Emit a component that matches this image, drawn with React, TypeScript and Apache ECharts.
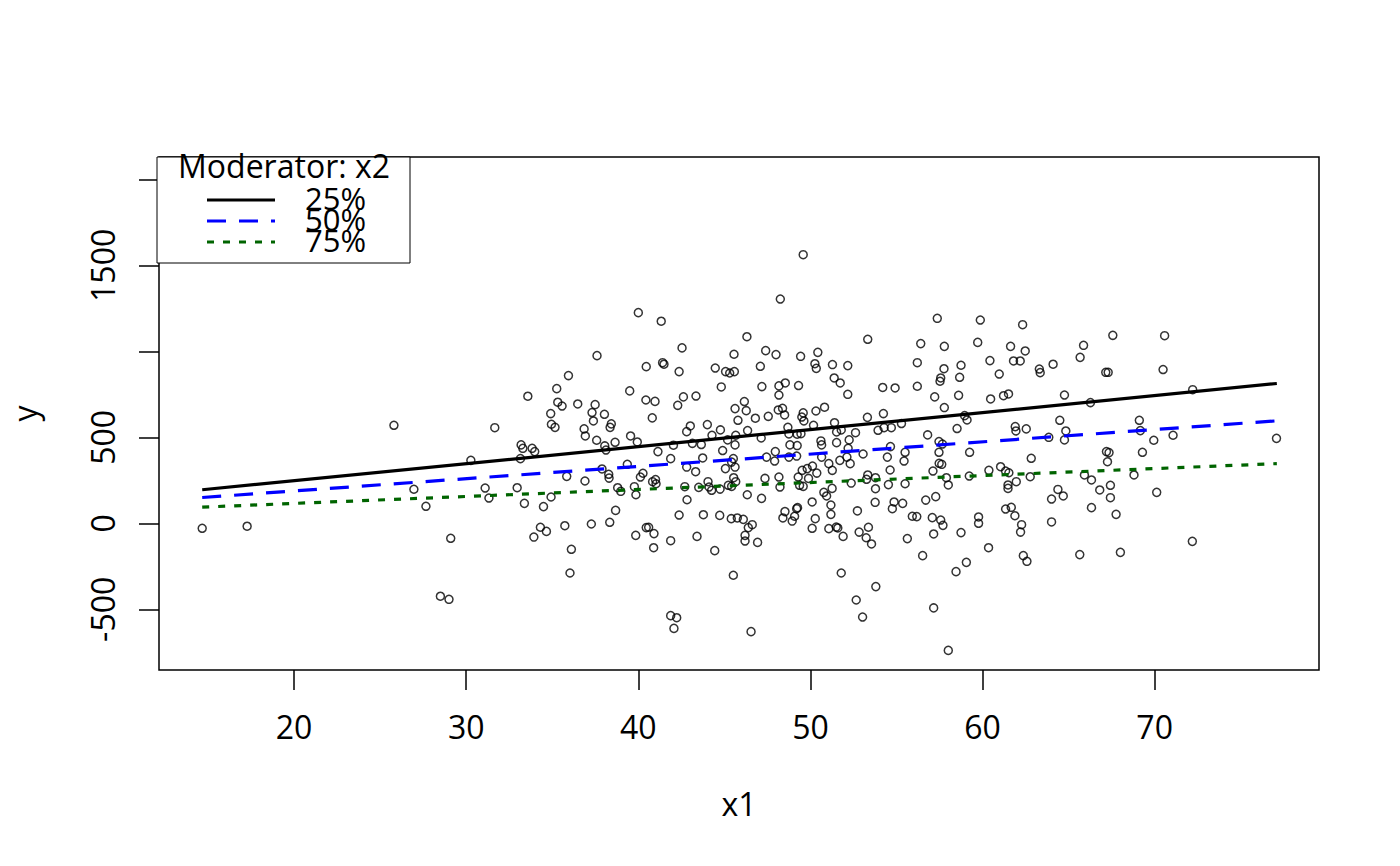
import React, { useEffect, useRef } from "react";
import * as echarts from "echarts";

// ---- data ----
const x1Values: number[] = [
  14.66, 17.27, 25.8, 26.96, 27.66, 29.1, 28.5, 29.0, 30.27,
  40.0, 41.33, 37.6, 40.46, 41.41, 41.49, 35.94, 35.26, 33.58, 39.5, 40.44, 40.97, 35.32, 35.57, 36.48, 37.49, 34.91, 37.31, 38.03, 34.95, 35.16, 37.39, 38.43, 38.36, 31.66, 40.81, 36.85, 36.92, 37.58, 38.65, 39.55, 39.94, 33.19, 33.29, 33.83, 33.98, 38.05, 38.12, 41.14, 42.04,
  33.15, 41.88, 39.36, 37.89, 35.84, 36.9, 38.28, 38.3, 40.27, 40.12, 40.83, 41.0, 41.03, 31.1, 31.32, 32.96, 33.38, 34.93, 34.49, 38.8, 38.98, 39.77, 39.86, 38.68, 34.31, 34.66, 33.93, 35.73, 37.27, 38.34, 39.85, 40.46, 40.6, 40.91, 40.89, 41.88, 36.11, 36.03, 41.88, 42.07,
  49.58, 48.25, 46.31, 53.33, 42.54, 45.56, 47.4, 48.0, 49.43, 50.43, 42.37, 44.47, 45.07, 45.31, 45.58, 47.09, 50.26, 50.34, 51.28, 52.17, 51.38, 51.73, 44.82, 47.18, 48.17, 48.54, 49.31, 48.17, 52.17, 42.62, 43.35, 42.29, 46.16, 45.62, 46.27, 48.13, 48.38, 48.5, 47.55, 46.8, 45.79, 49.58, 49.5, 49.62, 50.32, 50.82, 53.31, 43.02, 42.81, 44.01, 44.77, 44.28, 46.35, 45.66, 45.19, 47.14, 48.69, 48.75, 49.23, 49.45, 50.18, 51.4, 51.52, 51.79, 52.62, 53.93, 43.14, 43.66, 45.62, 44.9, 48.81, 49.23, 50.61, 50.65, 51.52, 52.25, 52.19, 53.06, 47.96,
  43.74, 45.52, 45.42, 42.81, 43.33, 45.06, 45.62, 47.45, 47.92, 48.75, 49.2, 50.65, 51.07, 51.27, 51.71, 52.12, 52.31, 49.52, 49.81, 50.12, 50.37, 49.29, 49.89, 48.17, 47.36, 45.54, 44.05, 42.7, 43.51, 44.11, 44.26, 44.75, 45.23, 45.42, 45.66, 48.23, 49.37, 49.58, 46.33, 47.16, 42.83, 42.37, 43.78, 44.73, 45.4, 45.75, 46.1, 46.62, 46.39, 46.2, 46.2, 46.93, 43.41, 44.44, 45.52, 48.52, 48.4, 48.94, 49.08, 49.25, 49.2, 50.1, 50.28, 50.1, 50.78, 50.94, 51.26, 51.19, 51.19, 51.07, 51.5, 51.59, 51.9, 52.37, 52.73, 52.83, 53.37, 53.24, 53.55, 53.33, 53.26, 53.78, 53.78, 53.76, 51.79, 53.8, 52.66, 53.03, 46.55, 42.23,
  57.37, 59.87, 62.33, 56.41, 57.78, 59.72, 61.63, 62.48, 65.87, 65.67, 56.21, 57.76, 58.75, 60.43, 61.8, 62.19, 64.1, 63.3, 63.35, 60.97, 57.57, 57.53, 58.67, 54.2, 54.92, 56.21, 57.22, 58.61, 60.47, 61.22, 61.51, 64.76, 57.78, 54.24, 58.96, 59.1, 55.29, 54.7, 54.28, 58.52, 61.9, 61.94, 62.54, 64.49, 64.84, 64.76, 63.85, 56.81, 57.47, 57.67, 54.65, 55.5,
  54.47, 55.44, 57.47, 57.48, 57.63, 59.25, 62.83, 54.63, 57.12, 54.53, 55.5, 57.9, 58.01, 59.23, 60.37, 61.05, 61.34, 61.53, 61.96, 61.48, 61.48, 62.77, 64.38, 64.69, 64.01, 65.92, 54.86, 55.36, 54.76, 56.7, 57.28, 55.92, 56.18, 57.08, 57.57, 57.7, 57.16, 55.63, 58.75, 59.77, 59.77, 61.34, 61.67, 61.88, 62.27, 62.21, 64.01, 60.35, 56.52, 59.06, 58.46, 62.37, 62.58, 65.65, 57.16, 58.01,
  67.57, 70.58, 67.16, 67.3, 70.49, 66.27, 72.21, 69.11, 69.17, 69.95, 71.07, 77.08, 67.2, 67.35, 69.29, 67.26, 66.33, 66.81, 67.43, 67.43, 66.33, 67.76, 68.8, 70.12, 72.19, 68.01,
];

const yValues: number[] = [
  -29, -17, 570, 198, 99, -87, -424, -442, 366,
  1225, 1175, 975, 911, 934, 925, 859, 783, 739, 770, 717, 709, 704, 682, 694, 690, 638, 644, 634, 576, 558, 595, 578, 558, 556, 613, 549, 508, 483, 471, 508, 473, 456, 436, 436, 417, 450, 426, 417, 454,
  376, 376, 343, 316, 273, 246, 285, 263, 291, 269, 242, 254, 230, 205, 147, 207, 116, 153, 97, 207, 186, 213, 166, 75, -23, -47, -80, -14, -4, 6, -70, -25, -23, -60, -142, -101, -151, -289, -537, -611,
  1562, 1304, 1085, 1070, 1020, 983, 1004, 981, 971, 994, 882, 903, 882, 874, 882, 913, 928, 901, 923, 917, 845, 816, 793, 795, 799, 816, 801, 746, 750, 735, 740, 686, 708, 667, 655, 659, 669, 630, 622, 611, 599, 642, 618, 595, 653, 675, 616, 566, 533, 574, 543, 512, 539, 512, 485, 496, 558, 520, 518, 521, 570, 585, 531, 543, 527, 541, 465, 458, 456, 423, 456, 452, 479, 456, 469, 485, 436, 403, 417,
  380, 376, 356, 327, 300, 318, 327, 385, 362, 385, 391, 385, 347, 308, 366, 385, 347, 308, 318, 333, 292, 269, 261, 269, 261, 265, 242, 213, 209, 211, 192, 199, 221, 215, 242, 211, 221, 215, 166, 145, 137, 48, 50, 46, 27, 31, 23, -8, -25, -70, -103, -111, -76, -159, -302, 68, 31, 13, 41, 91, 85, 124, 27, -29, 180, 159, 203, 106, 52, -31, -22, -27, -76, 234, 72, -51, -23, -84, -120, 281, 256, 265, 201, 122, -289, -368, -446, -545, -630, -549,
  1192, 1182, 1155, 1045, 1029, 1052, 1029, 1002, 1035, 965, 934, 899, 919, 946, 944, 944, 925, 897, 876, 868, 845, 826, 849, 790, 787, 797, 735, 744, 723, 742, 752, 746, 673, 638, 626, 601, 580, 556, 556, 551, 562, 537, 549, 599, 537, 485, 500, 514, 475, 461, 446, 413,
  385, 362, 413, 349, 343, 413, 378, 310, 304, 225, 230, 265, 223, 275, 308, 329, 304, 294, 242, 223, 203, 271, 197, 159, 141, 281, 124, 116, 85, 135, 155, 41, 39, 33, 19, -12, -62, -89, -54, 37, 0, 83, 93, 44, -8, -51, 8, -142, -188, -227, -281, -188, -221, -182, -492, -739,
  1093, 1091, 878, 878, 894, 702, 777, 599, 539, 483, 512, 494, 417, 411, 413, 358, 252, 194, 221, 149, 91, 52, 281, 180, -105, -169,
];

// fitted simple slopes at the moderator's quartiles (end points)
const lineX: number[] = [14.66, 77.1];
const line25: number[] = [195, 813];
const line50: number[] = [150, 596];
const line75: number[] = [94, 347];

const legendTitle = "Moderator: x2";
const legendLabels: string[] = ["25%", "50%", "75%"];

const xTicks: number[] = [20, 30, 40, 50, 60, 70];
const yTicks: number[] = [-500, 0, 500, 1000, 1500, 2000];
const yTickLabels: number[] = [-500, 0, 500, 1500];

const X_MIN = 12.15;
const X_MAX = 79.55;
const Y_MIN = -853;
const Y_MAX = 2130;

const FONT = "'Open Sans', 'Noto Sans', sans-serif";
const DASH_50 = [19, 13];
const DASH_75 = [7, 9];

export default function App() {
  const ref = useRef<HTMLDivElement>(null);

  useEffect(() => {
    if (!ref.current) return;
    const chart = echarts.init(ref.current, undefined, { renderer: "svg" });

    const points = x1Values.map((x, i) => [x, yValues[i]]);
    const mk = (ys: number[]) => lineX.map((x, i) => [x, ys[i]]);

    const legendLeft = 157;
    const legendTop = 157;
    const rowY = [200, 221, 242];
    const lineStyles = [
      { stroke: "#000000", lineDash: null as any },
      { stroke: "#0000FF", lineDash: DASH_50 },
      { stroke: "#006400", lineDash: DASH_75 },
    ];

    const graphicElements: any[] = [
      {
        type: "rect",
        z: 100,
        shape: { x: legendLeft, y: legendTop, width: 253, height: 106 },
        style: { fill: "#ffffff", stroke: "#000000", lineWidth: 1 },
      },
      {
        type: "text",
        z: 101,
        x: 284,
        y: 165,
        style: {
          text: legendTitle,
          fill: "#000",
          font: `32px ${FONT}`,
          align: "center",
          verticalAlign: "middle",
        },
      },
    ];
    legendLabels.forEach((lab, i) => {
      graphicElements.push({
        type: "line",
        z: 101,
        shape: { x1: 207, y1: rowY[i], x2: 275, y2: rowY[i] },
        style: {
          stroke: lineStyles[i].stroke,
          lineWidth: 3,
          lineDash: lineStyles[i].lineDash,
        },
      });
      graphicElements.push({
        type: "text",
        z: 101,
        x: 305,
        y: rowY[i] - 2,
        style: {
          text: lab,
          fill: "#000",
          font: `31px ${FONT}`,
          align: "left",
          verticalAlign: "middle",
        },
      });
    });

    const option: any = {
      animation: false,
      backgroundColor: "#ffffff",
      textStyle: { fontFamily: FONT },
      grid: {
        left: 157,
        top: 157,
        right: 81,
        bottom: 196,
        show: true,
        borderColor: "#000",
        borderWidth: 1.5,
        backgroundColor: "transparent",
      },
      xAxis: {
        type: "value",
        min: X_MIN,
        max: X_MAX,
        axisLine: { show: false, onZero: false },
        splitLine: { show: false },
        axisTick: {
          show: true,
          inside: false,
          length: 20,
          lineStyle: { color: "#000", width: 1.5 },
          customValues: xTicks,
        },
        axisLabel: {
          show: true,
          customValues: xTicks,
          formatter: (v: number) => String(v),
          margin: 40,
          fontSize: 32,
          color: "#000",
          fontFamily: FONT,
          showMinLabel: true,
          showMaxLabel: true,
        },
        name: "x1",
        nameLocation: "middle",
        nameGap: 117,
        nameTextStyle: { fontSize: 32, color: "#000", fontFamily: FONT },
      },
      yAxis: {
        type: "value",
        min: Y_MIN,
        max: Y_MAX,
        axisLine: { show: false, onZero: false },
        splitLine: { show: false },
        axisTick: {
          show: true,
          inside: false,
          length: 20,
          lineStyle: { color: "#000", width: 1.5 },
          customValues: yTicks,
        },
        axisLabel: {
          show: true,
          customValues: yTickLabels,
          formatter: (v: number) => String(v),
          rotate: 90,
          margin: 41,
          fontSize: 32,
          color: "#000",
          fontFamily: FONT,
          showMinLabel: true,
          showMaxLabel: true,
        },
        name: "y",
        nameLocation: "middle",
        nameGap: 119,
        nameTextStyle: { fontSize: 32, color: "#000", fontFamily: FONT },
      },
      series: [
        {
          type: "scatter",
          data: points,
          symbol: "circle",
          symbolSize: 8,
          silent: true,
          z: 2,
          itemStyle: {
            color: "rgba(0,0,0,0)",
            borderColor: "#000",
            borderWidth: 1.5,
          },
        },
        {
          type: "line",
          name: "25%",
          data: mk(line25),
          showSymbol: false,
          silent: true,
          z: 3,
          lineStyle: { color: "#000000", width: 3.2, type: "solid" },
        },
        {
          type: "line",
          name: "50%",
          data: mk(line50),
          showSymbol: false,
          silent: true,
          z: 3,
          lineStyle: { color: "#0000FF", width: 3.2, type: DASH_50 },
        },
        {
          type: "line",
          name: "75%",
          data: mk(line75),
          showSymbol: false,
          silent: true,
          z: 3,
          lineStyle: { color: "#006400", width: 3.2, type: DASH_75 },
        },
      ],
      graphic: { elements: graphicElements },
    };

    chart.setOption(option);
    return () => chart.dispose();
  }, []);

  return (
    <div
      ref={ref}
      style={{ position: "absolute", left: 0, top: 0, width: 1400, height: 866, background: "#fff" }}
    />
  );
}
